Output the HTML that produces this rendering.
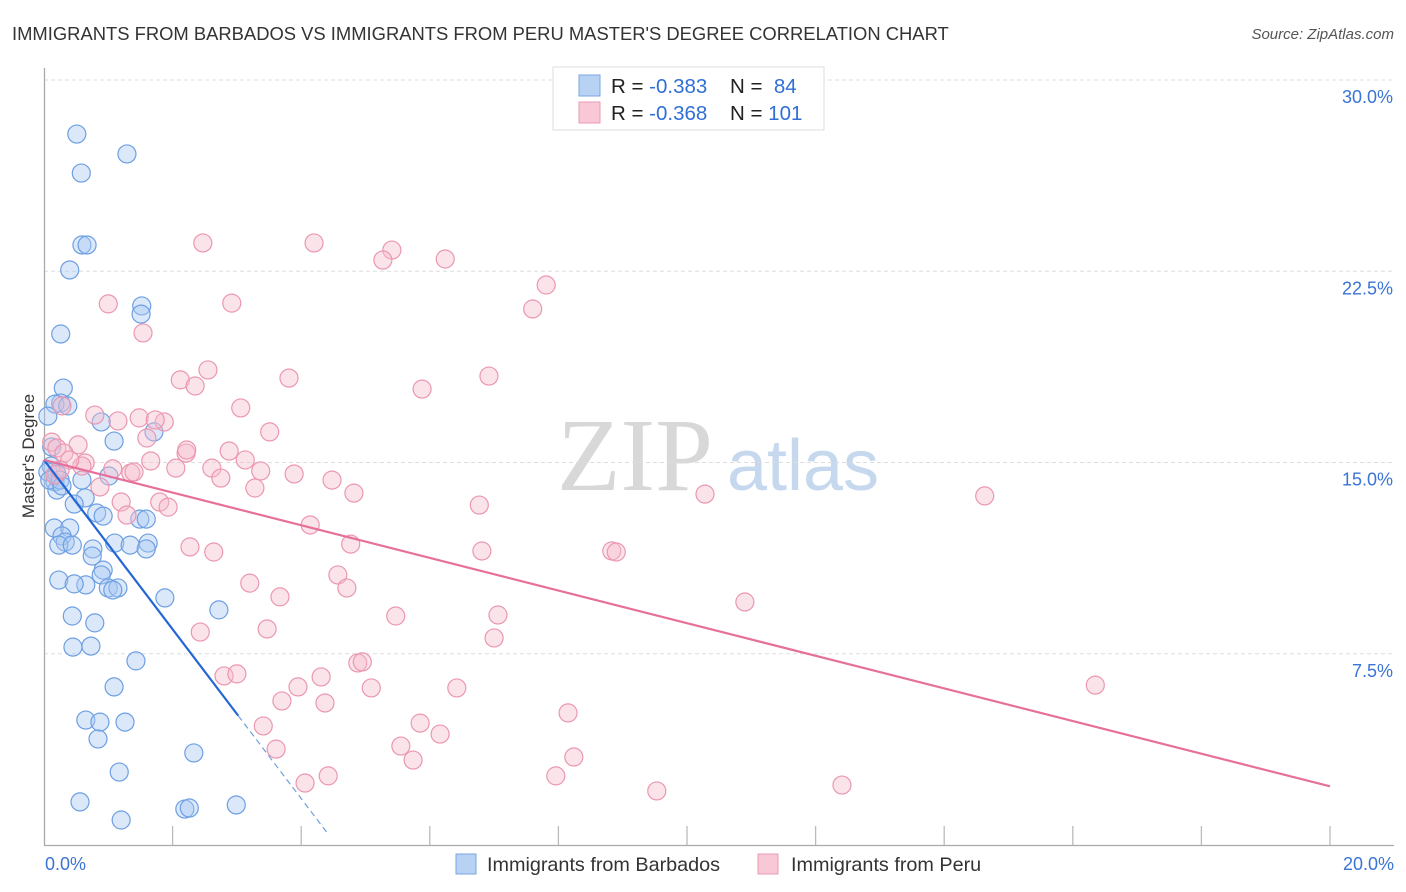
<!DOCTYPE html>
<html><head><meta charset="utf-8"><style>
body{margin:0;background:#fff;font-family:"Liberation Sans",sans-serif;}
#wrap{position:relative;width:1406px;height:892px;overflow:hidden;}
</style></head><body>
<div id="wrap">
<svg id="svg" width="1406" height="892" xmlns="http://www.w3.org/2000/svg">
<text x="12" y="40" font-size="18.4" fill="#333">IMMIGRANTS FROM BARBADOS VS IMMIGRANTS FROM PERU MASTER'S DEGREE CORRELATION CHART</text>
<text x="1394" y="39" font-size="15" fill="#555" font-style="italic" text-anchor="end">Source: ZipAtlas.com</text>
<text x="635" y="490" font-size="104" fill="#d8d8d8" font-family="Liberation Serif" text-anchor="middle">ZIP</text>
<text x="803" y="490" font-size="72" fill="#c6d8ee" text-anchor="middle">atlas</text>
<text transform="translate(34,456) rotate(-90)" font-size="17" fill="#333" text-anchor="middle">Master's Degree</text>
<g id="grid"></g><g id="axes"></g><g id="pts"></g><g id="lines"></g>
<g>
<rect x="553" y="67" width="271" height="63" fill="#fff" stroke="#ddd"/>
<rect x="579" y="75" width="21" height="21" fill="#b8d2f4" stroke="#7aa6e4"/>
<rect x="579" y="102" width="21" height="21" fill="#f8c8d6" stroke="#eb9ab3"/>
<text x="611" y="93" font-size="20.5" fill="#222">R = <tspan fill="#2f6fd6">-0.383</tspan></text>
<text x="730" y="93" font-size="20.5" fill="#222">N = <tspan fill="#2f6fd6">&#160;84</tspan></text>
<text x="611" y="120" font-size="20.5" fill="#222">R = <tspan fill="#2f6fd6">-0.368</tspan></text>
<text x="730" y="120" font-size="20.5" fill="#222">N = <tspan fill="#2f6fd6">101</tspan></text>
</g>
<g>
<rect x="456" y="854" width="20" height="20" fill="#b8d2f4" stroke="#7aa6e4"/>
<text x="487" y="871" font-size="19.8" fill="#333">Immigrants from Barbados</text>
<rect x="758" y="854" width="20" height="20" fill="#f8c8d6" stroke="#eb9ab3"/>
<text x="791" y="871" font-size="19.8" fill="#333">Immigrants from Peru</text>
</g>
</svg>
</div>
<script>
const yTicks=[7.5,15,22.5,30];
const yTickLabels=["7.5%","15.0%","22.5%","30.0%"];
const xTicks=[0,2,4,6,8,10,12,14,16,18,20];
const xEndLabels=["0.0%","20.0%"];
const barbadosX=[0.51,1.29,0.58,0.59,0.67,0.40,1.52,1.51,0.26,0.30,0.26,0.17,0.37,0.06,0.89,1.71,1.09,0.12,0.11,0.06,0.17,0.20,0.59,1.01,0.64,0.47,0.82,0.92,1.49,1.59,0.16,0.40,0.28,0.33,0.23,0.44,1.10,1.62,1.34,1.59,0.76,0.75,0.23,0.65,0.92,0.89,1.00,1.15,0.47,1.07,1.88,0.44,0.79,2.72,0.45,0.73,1.43,1.09,0.65,0.87,1.26,0.84,2.33,1.17,0.56,2.19,2.26,2.99,1.20,0.20,0.09,0.25,0.28];
const barbadosY=[27.88,27.10,26.35,23.53,23.53,22.55,21.14,20.82,20.04,17.92,17.33,17.29,17.22,16.82,16.59,16.20,15.84,15.61,14.86,14.63,14.24,13.92,14.31,14.47,13.61,13.37,13.02,12.90,12.78,12.78,12.43,12.43,12.12,11.88,11.76,11.76,11.84,11.84,11.76,11.61,11.61,11.33,10.39,10.20,10.78,10.59,10.08,10.08,10.24,10.00,9.69,8.98,8.71,9.22,7.76,7.80,7.22,6.20,4.90,4.82,4.82,4.16,3.61,2.86,1.69,1.41,1.45,1.57,0.98,14.55,14.31,14.31,14.08];
const peruX=[2.47,4.20,5.41,5.27,6.24,7.81,7.60,1.00,2.92,1.54,2.55,2.12,2.35,3.81,6.92,5.88,3.06,0.28,0.79,1.15,1.48,1.87,1.73,1.60,3.51,0.12,0.20,0.53,0.31,2.21,2.88,2.22,3.13,1.66,0.64,0.59,1.07,1.35,1.40,2.61,2.05,3.37,3.89,2.75,4.48,0.87,3.28,4.82,1.20,1.80,1.93,6.77,10.28,14.63,1.29,4.14,2.27,4.77,2.64,6.81,8.83,8.90,3.20,4.57,4.71,3.67,7.06,5.47,10.90,3.47,2.43,7.00,4.88,4.95,2.80,3.00,4.31,3.95,5.09,6.42,3.70,4.37,16.35,8.15,3.41,5.85,6.16,3.61,5.55,5.74,8.24,4.42,4.06,7.96,9.53,12.41,0.40,0.17,0.25];
const peruY=[23.61,23.61,23.33,22.94,22.98,21.96,21.02,21.22,21.25,20.08,18.63,18.24,18.00,18.31,18.39,17.88,17.14,17.22,16.86,16.63,16.75,16.59,16.67,15.96,16.20,15.80,15.57,15.69,15.37,15.37,15.45,15.49,15.10,15.06,14.98,14.86,14.75,14.59,14.63,14.78,14.78,14.67,14.55,14.39,14.31,14.04,14.00,13.80,13.45,13.45,13.25,13.33,13.76,13.69,12.94,12.55,11.69,11.80,11.49,11.53,11.53,11.49,10.27,10.59,10.08,9.73,9.02,8.98,9.53,8.47,8.35,8.12,7.14,7.18,6.63,6.71,6.59,6.20,6.16,6.16,5.65,5.57,6.27,5.18,4.67,4.78,4.35,3.76,3.88,3.33,3.45,2.71,2.43,2.71,2.12,2.35,15.10,14.51,14.71];
const barbadosTrend=[15.1,-3.32]; // intercept, slope
const peruTrend=[15.1,-0.64];
const barbadosSolidEnd=3.02, barbadosDashEnd=4.42, peruEnd=20;

const NS="http://www.w3.org/2000/svg";
const X=v=>44+v*64.3;
const Y=v=>845-v*25.5;
function mk(tag,attrs,parent){const e=document.createElementNS(NS,tag);for(const k in attrs)e.setAttribute(k,attrs[k]);parent.appendChild(e);return e;}
const grid=document.getElementById('grid'),axes=document.getElementById('axes'),pts=document.getElementById('pts'),lines=document.getElementById('lines');
yTicks.forEach((t,i)=>{
  const l=mk('line',{x1:44,x2:1394,y1:Y(t),y2:Y(t),stroke:'#ddd','stroke-dasharray':'4,3'},grid);
  
  
  const tx=mk('text',{x:1393,y:Y(t)+23,'font-size':18,fill:'#3a74d4','text-anchor':'end'},grid);
  tx.textContent=yTickLabels[i];
  
  
});
const ax=mk('path',{d:`M44.5,68 V845.5 H1394`,fill:'none',stroke:'#aaa','stroke-width':1.3},axes);


xTicks.forEach(t=>{
  if(t===0)return;
  const l=mk('line',{x1:X(t),x2:X(t),y1:826,y2:845,stroke:'#bbb','stroke-width':1.3},axes);
  
  
});
[[0,'start',45],[20,'end',1394]].forEach((a,i)=>{
  const tx=mk('text',{x:a[2],y:870,'font-size':18,fill:'#3a74d4','text-anchor':a[1]},axes);
  tx.textContent=xEndLabels[i];
  
  
});
function drawPts(xs,ys,fill,stroke,name){
  xs.forEach((x,i)=>{
    const c=mk('circle',{cx:X(x),cy:Y(ys[i]),r:9,fill:fill,'fill-opacity':0.42,stroke:stroke,'stroke-width':1.2},pts);
    
    
  });
}
drawPts(barbadosX,barbadosY,'#a9c8f2','#6d9fe2','barbados-point');
drawPts(peruX,peruY,'#f6bccd','#eb97b0','peru-point');
const f=(tr,x)=>tr[0]+tr[1]*x;
const b1=mk('line',{x1:X(0),y1:Y(f(barbadosTrend,0)),x2:X(barbadosSolidEnd),y2:Y(f(barbadosTrend,barbadosSolidEnd)),stroke:'#2466d4','stroke-width':2.2},lines);


const b2=mk('line',{x1:X(barbadosSolidEnd),y1:Y(f(barbadosTrend,barbadosSolidEnd)),x2:X(barbadosDashEnd),y2:Y(f(barbadosTrend,barbadosDashEnd)),stroke:'#6d9fe2','stroke-width':1.2,'stroke-dasharray':'6,4'},lines);


const p1=mk('line',{x1:X(0),y1:Y(f(peruTrend,0)),x2:X(peruEnd),y2:Y(f(peruTrend,peruEnd)),stroke:'#e6709a','stroke-width':2.2},lines);


</script>
</body></html>
